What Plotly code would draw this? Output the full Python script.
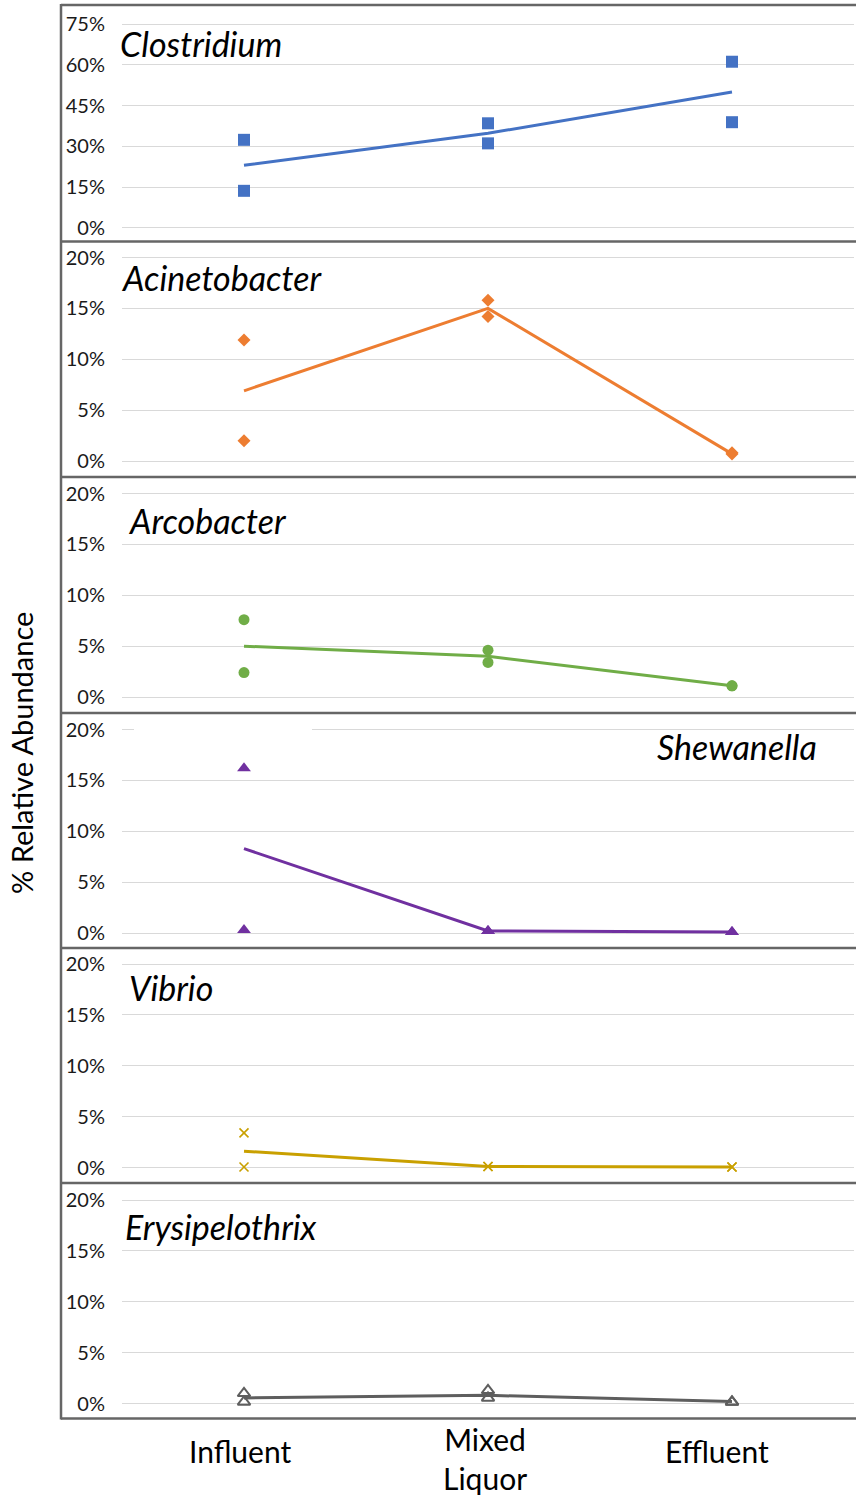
import plotly.graph_objects as go

# Sampling stages along the treatment train
stages = ["Influent", "Mixed Liquor", "Effluent"]
stage_labels = ["Influent", "Mixed<br>Liquor", "Effluent"]

# Relative abundance (%) of each genus: two replicates per stage and their mean
clostridium_rep1 = [32.4, 38.5, 61.2]
clostridium_rep2 = [13.6, 31.1, 38.9]
clostridium_mean = [23.0, 34.8, 50.0]

acinetobacter_rep1 = [11.9, 15.8, 0.8]
acinetobacter_rep2 = [2.0, 14.2, 0.7]
acinetobacter_mean = [6.9, 15.0, 0.7]

arcobacter_rep1 = [7.6, 4.6, 1.1]
arcobacter_rep2 = [2.4, 3.4, 1.1]
arcobacter_mean = [5.0, 4.0, 1.1]

shewanella_rep1 = [16.2, 0.2, 0.1]
shewanella_rep2 = [0.3, 0.2, 0.1]
shewanella_mean = [8.3, 0.2, 0.1]

vibrio_rep1 = [3.4, 0.1, 0.05]
vibrio_rep2 = [0.05, 0.1, 0.05]
vibrio_mean = [1.6, 0.1, 0.05]

erysipelothrix_rep1 = [1.0, 1.3, 0.15]
erysipelothrix_rep2 = [0.15, 0.55, 0.15]
erysipelothrix_mean = [0.55, 0.8, 0.2]

clostridium_ticks = [0, 15, 30, 45, 60, 75]
small_ticks = [0, 5, 10, 15, 20]

W, H = 856, 1495
FONT = "Lato"

panels = [
    dict(name="Clostridium", reps=(clostridium_rep1, clostridium_rep2), mean=clostridium_mean,
         color="#4472C4", symbol="square", msize=12, ticks=clostridium_ticks,
         top=5, bottom=241.5, zero_off=13.8, label_xy=(118, 43), anchor="left"),
    dict(name="Acinetobacter", reps=(acinetobacter_rep1, acinetobacter_rep2), mean=acinetobacter_mean,
         color="#ED7D31", symbol="diamond", msize=10, ticks=small_ticks,
         top=241.5, bottom=477, zero_off=16, label_xy=(119, 277), anchor="left"),
    dict(name="Arcobacter", reps=(arcobacter_rep1, arcobacter_rep2), mean=arcobacter_mean,
         color="#70AD47", symbol="circle", msize=11, ticks=small_ticks,
         top=477, bottom=713, zero_off=16, label_xy=(126, 520), anchor="left"),
    dict(name="Shewanella", reps=(shewanella_rep1, shewanella_rep2), mean=shewanella_mean,
         color="#7030A0", symbol="triangle-up", msize=12, ticks=small_ticks,
         top=713, bottom=948, zero_off=15, label_xy=(819, 746), anchor="right"),
    dict(name="Vibrio", reps=(vibrio_rep1, vibrio_rep2), mean=vibrio_mean,
         color="#C9A000", symbol="x-thin-open", msize=9, ticks=small_ticks,
         top=948, bottom=1183, zero_off=15.5, label_xy=(127, 988), anchor="left"),
    dict(name="Erysipelothrix", reps=(erysipelothrix_rep1, erysipelothrix_rep2), mean=erysipelothrix_mean,
         color="#5E5E5E", symbol="triangle-up-open", msize=11, ticks=small_ticks,
         top=1183, bottom=1418.5, zero_off=15, label_xy=(123, 1226), anchor="left"),
]


def py(y):
    return 1 - y / H


def px(x):
    return x / W


GRID_PX = 203.4  # pixel span from lowest to highest gridline
fig = go.Figure()
layout = dict(
    width=W, height=H, margin=dict(l=0, r=0, t=0, b=0),
    paper_bgcolor="white", plot_bgcolor="white", showlegend=False,
    font=dict(family=FONT, color="#000000"),
)
annotations = []
shapes = []

for i, p in enumerate(panels, start=1):
    xa = "x" if i == 1 else f"x{i}"
    ya = "y" if i == 1 else f"y{i}"
    top_val = p["ticks"][-1]
    ppu = GRID_PX / top_val
    hgt = p["bottom"] - p["top"]
    lo = -p["zero_off"] / ppu
    hi = (hgt - p["zero_off"]) / ppu

    fig.add_trace(go.Scatter(
        x=stages, y=p["mean"], mode="lines", xaxis=xa, yaxis=ya,
        line=dict(color=p["color"], width=3), cliponaxis=False, hoverinfo="skip"))
    for rep in p["reps"]:
        mk = dict(symbol=p["symbol"], size=p["msize"], color=p["color"])
        if "open" in p["symbol"]:
            mk["line"] = dict(color=p["color"], width=1.6 if "x" in p["symbol"] else 2)
        else:
            mk["line"] = dict(width=0)
        fig.add_trace(go.Scatter(
            x=stages, y=rep, mode="markers", xaxis=xa, yaxis=ya,
            marker=mk, cliponaxis=False))

    xkey = "xaxis" if i == 1 else f"xaxis{i}"
    ykey = "yaxis" if i == 1 else f"yaxis{i}"
    layout[xkey] = dict(
        domain=[px(122), px(854)], anchor=ya, type="category",
        categoryorder="array", categoryarray=stages, range=[-0.5, 2.5],
        showticklabels=False, showgrid=False, zeroline=False, showline=False,
        fixedrange=True)
    layout[ykey] = dict(
        domain=[py(p["bottom"]), py(p["top"])], anchor=xa, range=[lo, hi],
        tickvals=p["ticks"], ticktext=[f"{t}%" for t in p["ticks"]],
        showgrid=True, gridcolor="#D9D9D9", gridwidth=1.3, zeroline=False,
        showline=False, ticks="", ticklabelstandoff=16,
        tickfont=dict(family=FONT, size=20, color="#1a1a1a"), fixedrange=True)

    lx, ly = p["label_xy"]
    annotations.append(dict(
        text=f"<i>{p['name']}</i>", xref="paper", yref="paper",
        x=px(lx), y=py(ly), xanchor=p["anchor"], yanchor="middle", showarrow=False,
        font=dict(family=FONT, size=34, color="#000000")))

    # panel border (top edge)
    shapes.append(dict(type="line", xref="paper", yref="paper",
                       x0=px(61), x1=px(870), y0=py(p["top"]), y1=py(p["top"]),
                       line=dict(color="#666666", width=2.5)))

# bottom and left edges of the frame
shapes.append(dict(type="line", xref="paper", yref="paper",
                   x0=px(61), x1=px(870), y0=py(1418.5), y1=py(1418.5),
                   line=dict(color="#666666", width=2.5)))
shapes.append(dict(type="line", xref="paper", yref="paper",
                   x0=px(61), x1=px(61), y0=py(4), y1=py(1419.5),
                   line=dict(color="#666666", width=2.5)))
# blank text box sitting over the top gridline of the Shewanella panel
shapes.append(dict(type="rect", xref="paper", yref="paper",
                   x0=px(134), x1=px(312), y0=py(735), y1=py(725),
                   fillcolor="white", line=dict(width=0), layer="above"))

# stage labels under the bottom panel
label_shift = [-4, -3, -15]
label_y = [1451, 1458, 1451]
for stage, txt, dx, ly in zip(stages, stage_labels, label_shift, label_y):
    annotations.append(dict(
        text=txt, xref="x6", yref="paper", x=stage, y=py(ly), xshift=dx,
        xanchor="center", yanchor="middle", showarrow=False,
        font=dict(family=FONT, size=30, color="#000000")))

annotations.append(dict(
    text="% Relative Abundance", xref="paper", yref="paper",
    x=px(22), y=py(753), textangle=-90, xanchor="center", yanchor="middle",
    showarrow=False, font=dict(family=FONT, size=29, color="#000000")))

layout["annotations"] = annotations
layout["shapes"] = shapes
fig.update_layout(**layout)
fig.write_html("out.html")
